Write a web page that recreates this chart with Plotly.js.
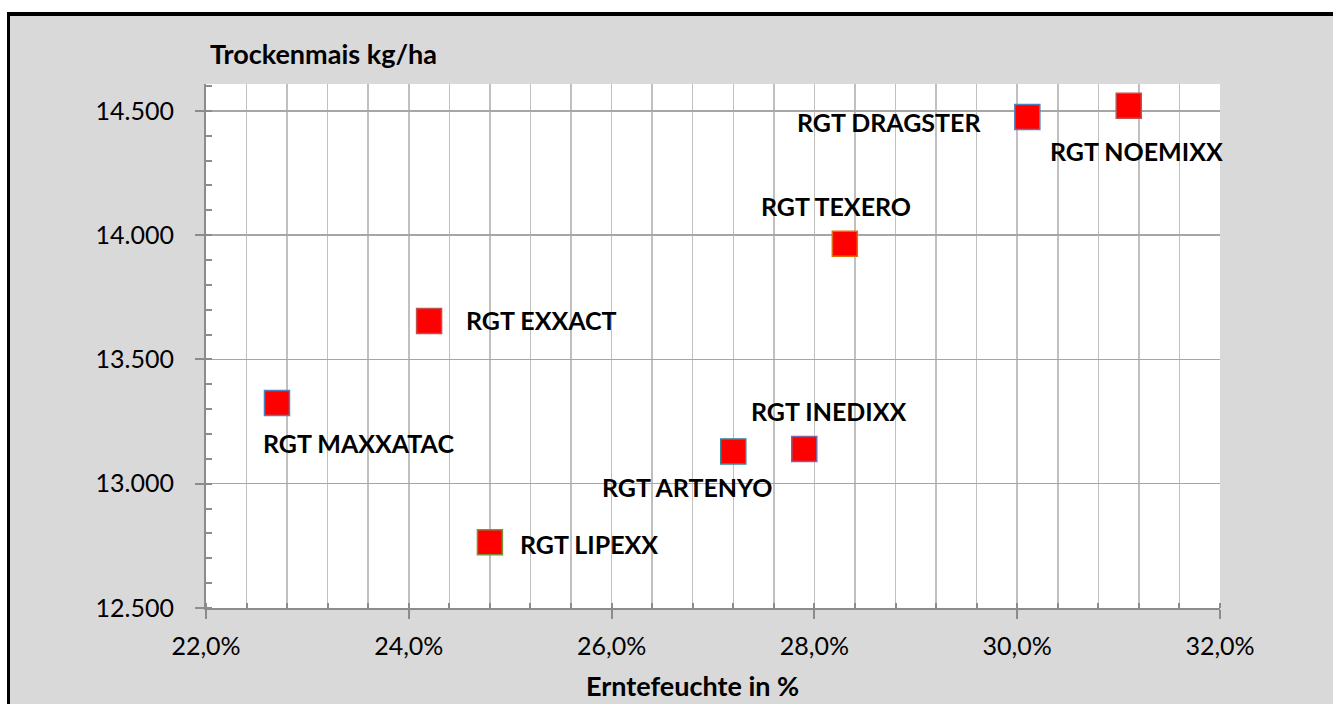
<!DOCTYPE html>
<html>
<head>
<meta charset="utf-8">
<script src="https://cdn.plot.ly/plotly-3.0.1.min.js"></script>
<style>
  html, body { margin: 0; padding: 0; background: #ffffff; overflow: hidden; width: 1333px; height: 704px; }
  #frame { position: absolute; left: 7px; top: 12px; width: 1400px; height: 800px; background: #d9d9d9;
           border-left: 3px solid #000; border-top: 4px solid #000; box-sizing: border-box; }
  #chart { position: absolute; left: 0; top: 0; width: 1333px; height: 704px; }
</style>
</head>
<body>
<div id="frame"></div>
<div id="chart"></div>
<script>
// ---- data ----
const sorten   = ['RGT MAXXATAC', 'RGT EXXACT', 'RGT LIPEXX', 'RGT INEDIXX', 'RGT ARTENYO', 'RGT TEXERO', 'RGT DRAGSTER', 'RGT NOEMIXX'];
const feuchte  = [22.7, 24.2, 24.8, 27.9, 27.2, 28.3, 30.1, 31.1];          // Erntefeuchte in %
const ertrag   = [13325, 13655, 12765, 13140, 13130, 13965, 14475, 14520];  // Trockenmais kg/ha
const xTitle   = 'Erntefeuchte in %';
const yTitle   = 'Trockenmais kg/ha';

// ---- styling (not data) ----
const borderColors = ['#4F81BD', '#C0504D', '#77933C', '#8064A2', '#31859C', '#E46C0A', '#4F81BD', '#C0504D'];
// label placement relative to each marker (pixels)
const labelShiftX = [82, 112, 99, 24, -46, -9, -138, 8];
const labelShiftY = [-40, 1, -2, 38, -36, 38, -5, -45];

const FONT = 'Lato, "Open Sans", sans-serif';

const trace = {
  type: 'scatter',
  mode: 'markers',
  x: feuchte,
  y: ertrag,
  text: sorten,
  hoverinfo: 'skip',
  marker: { symbol: 'square', size: 25, color: '#FF0000', line: { color: borderColors, width: 1.5 } },
  showlegend: false
};

const annotations = sorten.map((s, i) => ({
  x: feuchte[i], y: ertrag[i], xref: 'x', yref: 'y',
  text: '<b>' + s + '</b>', showarrow: false,
  xanchor: 'center', yanchor: 'middle',
  xshift: labelShiftX[i], yshift: labelShiftY[i],
  font: { family: FONT, size: 25, color: '#000000' }
}));

// x-axis title, placed as in the reference (slightly left of the plot centre)
annotations.push({
  xref: 'paper', yref: 'paper', x: 0.4795, y: 0, xanchor: 'center', yanchor: 'middle',
  yshift: -77, showarrow: false,
  text: '<b>' + xTitle + '</b>',
  font: { family: FONT, size: 27, color: '#000000' }
});

const layout = {
  width: 1333, height: 704,
  paper_bgcolor: 'rgba(0,0,0,0)',
  plot_bgcolor: '#ffffff',
  separators: ',.',
  margin: { l: 206, r: 113, t: 84, b: 96, pad: 0 },
  title: {
    text: '<b>' + yTitle + '</b>',
    font: { family: FONT, size: 27, color: '#000000' },
    xref: 'paper', x: 0.004, xanchor: 'left',
    yref: 'container', y: 1 - 55 / 704, yanchor: 'middle'
  },
  xaxis: {
    range: [22, 32], tick0: 22, dtick: 2,
    tickformat: '.1f', ticksuffix: '%',
    showgrid: true, gridcolor: '#c0c0c0', gridwidth: 1.5,
    showline: true, linecolor: '#8c8c8c', linewidth: 2,
    ticks: 'outside', ticklen: 9, tickwidth: 2, tickcolor: '#8c8c8c',
    ticklabelstandoff: 6,
    tickfont: { family: FONT, size: 25, color: '#000000' },
    zeroline: false,
    minor: { tick0: 22, dtick: 0.4, showgrid: true, gridcolor: '#c0c0c0', gridwidth: 1.5,
             ticks: 'inside', ticklen: 5, tickwidth: 2, tickcolor: '#8c8c8c' }
  },
  yaxis: {
    range: [12500, 14608], tick0: 12500, dtick: 500,
    tickformat: ',d',
    showgrid: true, gridcolor: '#a6a6a6', gridwidth: 1.5,
    showline: true, linecolor: '#8c8c8c', linewidth: 2,
    ticks: 'outside', ticklen: 9, tickwidth: 2, tickcolor: '#8c8c8c',
    ticklabelstandoff: 16,
    tickfont: { family: FONT, size: 25, color: '#000000' },
    zeroline: false,
    minor: { tick0: 12500, dtick: 100, showgrid: false,
             ticks: 'inside', ticklen: 6, tickwidth: 2, tickcolor: '#8c8c8c' }
  },
  annotations: annotations
};

Plotly.newPlot('chart', [trace], layout, { displayModeBar: false, staticPlot: true });
</script>
</body>
</html>
